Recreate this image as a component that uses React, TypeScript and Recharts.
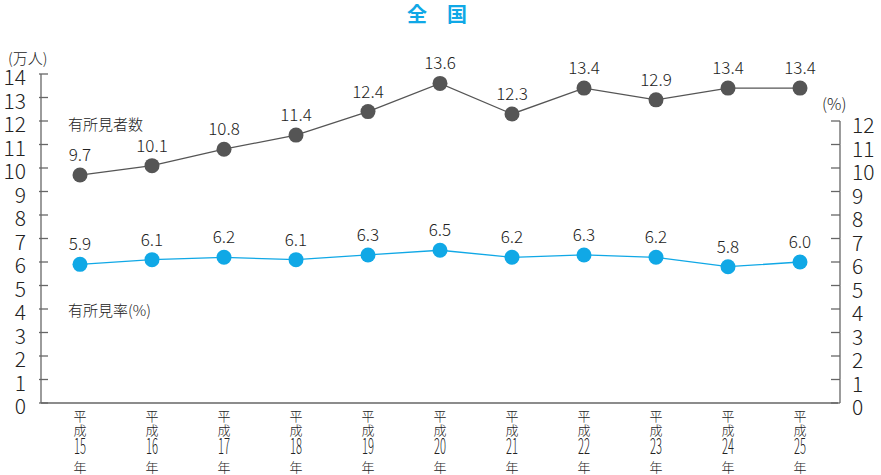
import { LineChart, Line, XAxis, YAxis, LabelList } from "recharts";

const years = ["15", "16", "17", "18", "19", "20", "21", "22", "23", "24", "25"];
const findingCount = [9.7, 10.1, 10.8, 11.4, 12.4, 13.6, 12.3, 13.4, 12.9, 13.4, 13.4];
const findingRate = [5.9, 6.1, 6.2, 6.1, 6.3, 6.5, 6.2, 6.3, 6.2, 5.8, 6.0];
const leftTicks = [0, 1, 2, 3, 4, 5, 6, 7, 8, 9, 10, 11, 12, 13, 14];
const rightTicks = [0, 1, 2, 3, 4, 5, 6, 7, 8, 9, 10, 11, 12];

const data = years.map((y, i) => ({
  year: y,
  count: findingCount[i],
  rate: findingRate[i],
}));

const W = 881;
const H = 475;
const TOP = 74;
const BOTTOM = 72;
const FONT = "'Noto Sans CJK JP', 'Noto Sans', sans-serif";
const TEXT = "#222";
const AXIS = "#666";
const DARK = "#555555";
const CYAN = "#10a8e6";
const unit = (H - TOP - BOTTOM) / 14;

// 左軸: 目盛りは内側（右向き）
function LeftTick(props: any) {
  const { x, y, payload } = props;
  return (
    <g>
      <line x1={x} x2={x + 9} y1={y} y2={y} stroke={AXIS} strokeWidth={1.3} />
      <text x={x - 13} y={y} dy={11} textAnchor="end" fontSize={21} fontWeight={300} fill={TEXT} fontFamily={FONT}>
        {payload.value}
      </text>
    </g>
  );
}

// 右軸: 12までしか線を引かない
function RightTick(props: any) {
  const { x, y, payload } = props;
  return (
    <g>
      <line x1={x - 9} x2={x} y1={y} y2={y} stroke={AXIS} strokeWidth={1.3} />
      {payload.value > 0 && (
        <line x1={x} x2={x} y1={y} y2={y + unit} stroke={AXIS} strokeWidth={1.3} />
      )}
      <text x={x + 12} y={y} dy={12} textAnchor="start" fontSize={21} fontWeight={300} fill={TEXT} fontFamily={FONT}>
        {payload.value}
      </text>
    </g>
  );
}

// 縦書き風の年ラベル
function YearTick(props: any) {
  const { x, y, payload } = props;
  return (
    <text x={x} y={y + 16} textAnchor="middle" fill={TEXT} fontFamily={FONT} fontWeight={300} fontSize={13}>
      <tspan x={x}>平</tspan>
      <tspan x={x} dy={14}>成</tspan>
      <tspan x={x} dy={19} fontSize={21} textLength={12} lengthAdjust="spacingAndGlyphs">
        {payload.value}
      </tspan>
      <tspan x={x} dy={18} fontSize={13}>年</tspan>
    </text>
  );
}

function ValueLabel(props: any) {
  const { x, y, value } = props;
  return (
    <text x={x} y={y - 14} textAnchor="middle" fontSize={17} fontWeight={300} fill={TEXT} fontFamily={FONT}>
      {Number(value).toFixed(1)}
    </text>
  );
}

export default function App() {
  return (
    <div style={{ position: "absolute", left: 0, top: 0, width: W, height: H, background: "#fff" }}>
      <LineChart width={W} height={H} data={data} margin={{ top: TOP, right: 0, bottom: 0, left: 0 }}>
        <XAxis
          dataKey="year"
          height={BOTTOM}
          padding={{ left: 39, right: 38 }}
          tickSize={0}
          tickLine={false}
          axisLine={{ stroke: AXIS, strokeWidth: 1.3 }}
          tick={<YearTick />}
          interval={0}
        />
        <YAxis
          yAxisId="left"
          orientation="left"
          width={41}
          domain={[0, 14]}
          ticks={leftTicks}
          tickSize={0}
          tickLine={false}
          axisLine={{ stroke: AXIS, strokeWidth: 1.3 }}
          tick={<LeftTick />}
          interval={0}
        />
        <YAxis
          yAxisId="right"
          orientation="right"
          width={43}
          domain={[0, 14]}
          ticks={rightTicks}
          tickSize={0}
          tickLine={false}
          axisLine={false}
          tick={<RightTick />}
          interval={0}
        />
        <Line
          yAxisId="left"
          dataKey="count"
          stroke={DARK}
          strokeWidth={1.3}
          dot={{ r: 7.5, fill: DARK, stroke: DARK, strokeWidth: 0 }}
          activeDot={false}
          isAnimationActive={false}
        >
          <LabelList dataKey="count" content={<ValueLabel />} />
        </Line>
        <Line
          yAxisId="right"
          dataKey="rate"
          stroke={CYAN}
          strokeWidth={1.3}
          dot={{ r: 7.5, fill: CYAN, stroke: CYAN, strokeWidth: 0 }}
          activeDot={false}
          isAnimationActive={false}
        >
          <LabelList dataKey="rate" content={<ValueLabel />} />
        </Line>
        <text x={437} y={22} textAnchor="middle" fontSize={20} fontWeight="bold" fill={CYAN} fontFamily={FONT}>
          全　国
        </text>
        <text x={8} y={64} fontSize={15} fontWeight={300} fill={TEXT} fontFamily={FONT}>
          (万人)
        </text>
        <text x={822} y={110} fontSize={16} fontWeight={300} fill={TEXT} fontFamily={FONT}>
          (%)
        </text>
        <text x={68} y={130} fontSize={15} fontWeight={300} fill={TEXT} fontFamily={FONT}>
          有所見者数
        </text>
        <text x={68} y={316} fontSize={15} fontWeight={300} fill={TEXT} fontFamily={FONT}>
          有所見率(%)
        </text>
      </LineChart>
    </div>
  );
}
